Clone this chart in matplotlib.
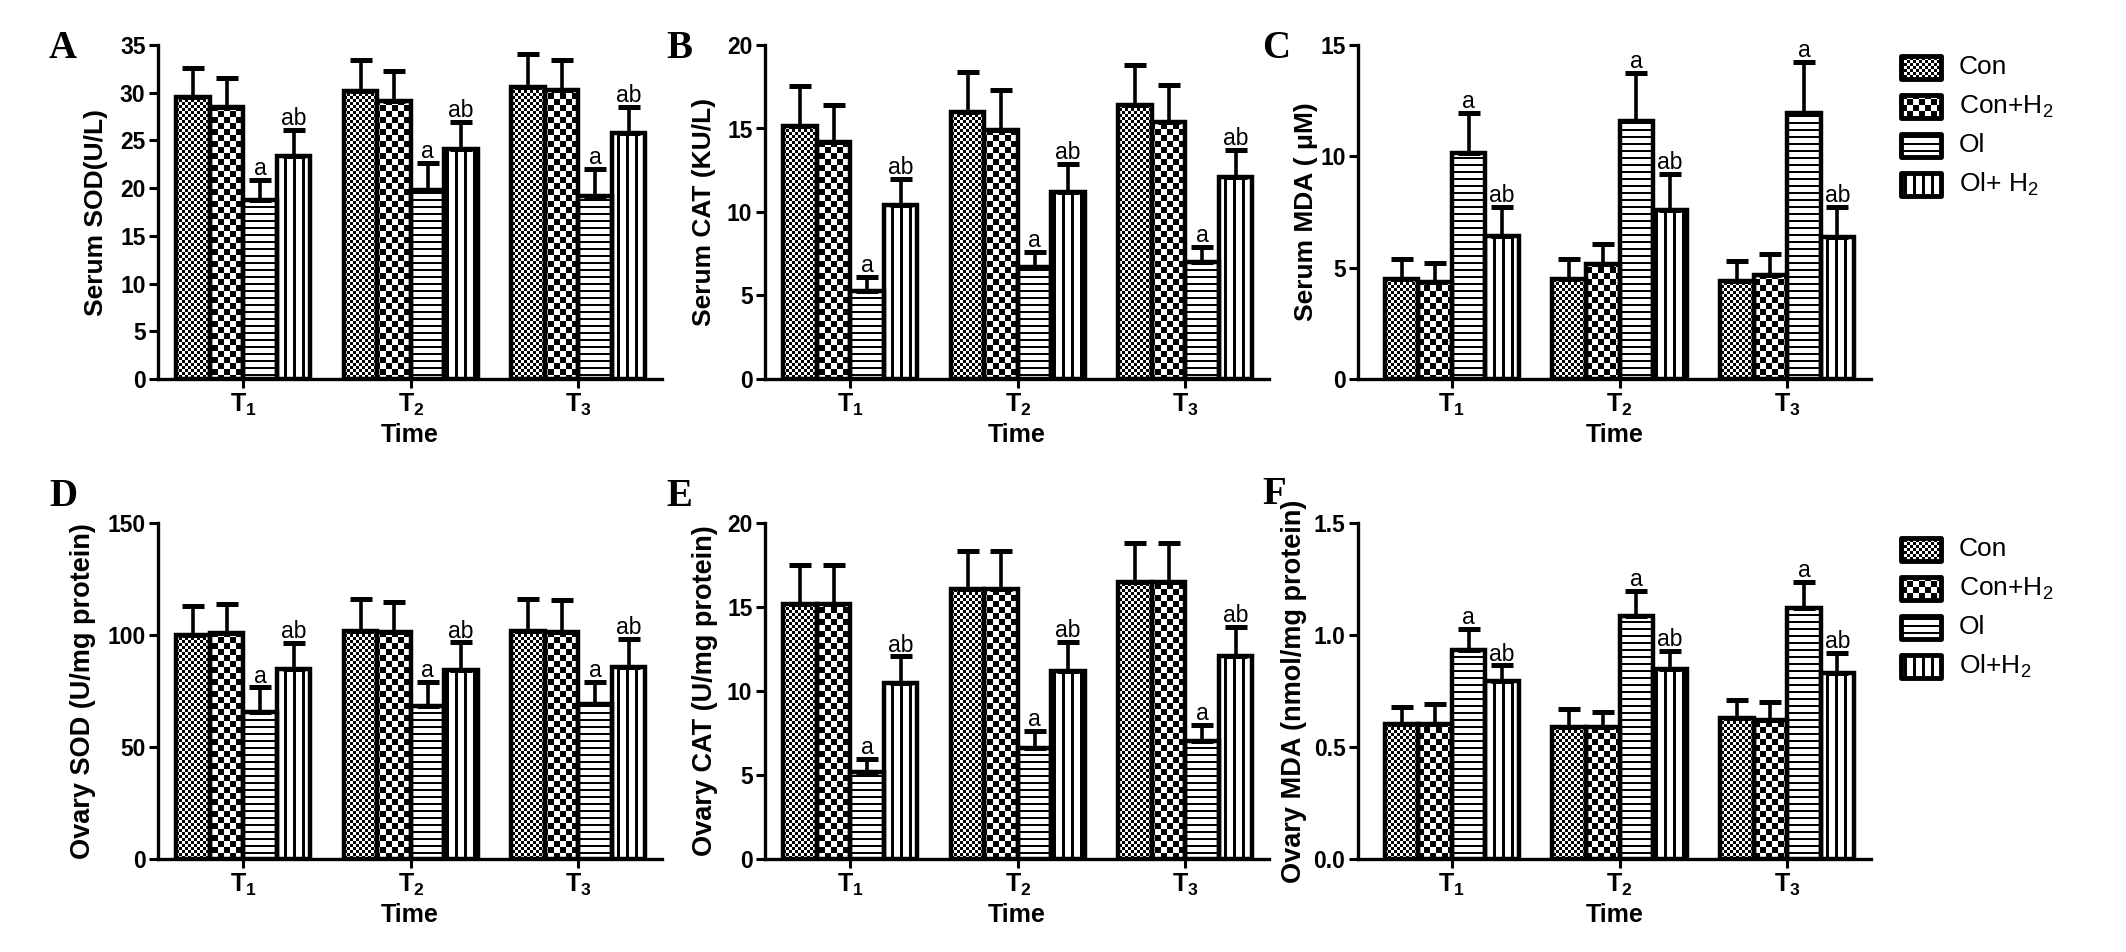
import numpy as np
import matplotlib
matplotlib.use("Agg")
from matplotlib import pyplot as plt
from matplotlib.path import Path
from matplotlib.patches import Rectangle

plt.rcParams['font.family'] = ['Liberation Sans', 'DejaVu Sans']
plt.rcParams['mathtext.fontset'] = 'custom'
plt.rcParams['mathtext.rm'] = 'Liberation Sans'
plt.rcParams['mathtext.it'] = 'Liberation Sans'
plt.rcParams['mathtext.bf'] = 'Liberation Sans:bold'
plt.rcParams['mathtext.default'] = 'rm'

# ---- data (group x time) ----
times = [r'$\mathbf{T_1}$', r'$\mathbf{T_2}$', r'$\mathbf{T_3}$']
groups = ['Con', 'Con+H2', 'Ol', 'Ol+H2']
sig_marks = ['', '', 'a', 'ab']
legend_top = ['Con', 'Con+H$_2$', 'Ol', 'Ol+ H$_2$']
legend_bottom = ['Con', 'Con+H$_2$', 'Ol', 'Ol+H$_2$']

serum_sod = [[29.6, 30.2, 30.6], [28.5, 29.1, 30.3], [18.8, 19.8, 19.2], [23.4, 24.1, 25.8]]
serum_sod_err = [[3.0, 3.2, 3.5], [3.0, 3.2, 3.1], [2.1, 2.8, 2.8], [2.7, 2.8, 2.7]]

serum_cat = [[15.15, 16.0, 16.4], [14.2, 14.9, 15.4], [5.25, 6.7, 7.0], [10.4, 11.2, 12.1]]
serum_cat_err = [[2.4, 2.4, 2.4], [2.2, 2.4, 2.2], [0.85, 0.9, 0.9], [1.6, 1.7, 1.6]]

serum_mda = [[4.49, 4.49, 4.38], [4.37, 5.17, 4.68], [10.17, 11.57, 11.93], [6.43, 7.57, 6.37]]
serum_mda_err = [[0.92, 0.92, 0.93], [0.86, 0.89, 0.93], [1.79, 2.19, 2.32], [1.29, 1.64, 1.35]]

ovary_sod = [[100.1, 101.6, 101.9], [100.7, 101.2, 101.5], [65.7, 68.1, 69.4], [84.8, 84.3, 85.5]]
ovary_sod_err = [[13.0, 14.5, 14.2], [13.2, 13.7, 14.2], [10.9, 11.0, 9.7], [11.6, 12.4, 12.7]]

ovary_cat = [[15.2, 16.06, 16.46], [15.2, 16.06, 16.46], [5.2, 6.62, 7.0], [10.46, 11.2, 12.06]]
ovary_cat_err = [[2.3, 2.3, 2.36], [2.3, 2.3, 2.36], [0.76, 0.98, 0.96], [1.6, 1.7, 1.74]]

ovary_mda = [[0.601, 0.591, 0.631], [0.601, 0.591, 0.622], [0.932, 1.084, 1.122], [0.794, 0.849, 0.830]]
ovary_mda_err = [[0.079, 0.079, 0.081], [0.090, 0.067, 0.081], [0.094, 0.112, 0.113], [0.070, 0.078, 0.090]]

FW, FH = 2126, 952
PATTERNS = ['fine', 'check', 'hline', 'vline']


def pattern(kind, h, w):
    '''0/1 texture, 1 = black'''
    yy, xx = np.mgrid[0:h, 0:w]
    if kind == 'fine':
        return ((xx // 3 + yy // 3) % 2).astype(float)
    if kind == 'check':
        return ((xx // 6 + yy // 6) % 2).astype(float)
    if kind == 'hline':
        return (yy % 7 < 2).astype(float)
    return (xx % 9 < 3).astype(float)


def add_axes_px(fig, left, top, w, h):
    return fig.add_axes([left / FW, 1 - (top + h) / FH, w / FW, h / FH])


def fill_pattern(ax, rects, kind, extent, shape):
    # texture image clipped to the bar outlines
    paths = [r.get_path().transformed(r.get_patch_transform()) for r in rects]
    clip = Path.make_compound_path(*paths)
    im = ax.imshow(pattern(kind, *shape), cmap='gray_r', vmin=0, vmax=1, extent=extent,
                   aspect='auto', interpolation='nearest', zorder=2)
    im.set_clip_path(clip, ax.transData)


def panel(fig, box, means, errs, ylabel, yticks, ylabel_fs, label_x, xlim, tickfmt):
    left, top, w, h = box
    ax = add_axes_px(fig, left, top, w, h)
    x = np.arange(len(times))
    width = 0.2
    ymax = yticks[-1]
    ax.set_xlim(*xlim)
    ax.set_ylim(0, ymax)
    for i, g in enumerate(groups):
        pos = x + (i - 1.5) * width
        bars = ax.bar(pos, means[i], width, facecolor='none', edgecolor='black', linewidth=3.2, zorder=3)
        fill_pattern(ax, bars, PATTERNS[i], (xlim[0], xlim[1], 0, ymax), (h, w))
        ax.errorbar(pos, means[i], yerr=[np.zeros(len(x)), errs[i]], fmt='none', ecolor='black',
                    elinewidth=2.6, capsize=8, capthick=3.6, zorder=2.5)
        if sig_marks[i]:
            for p, m, e in zip(pos, means[i], errs[i]):
                ax.annotate(sig_marks[i], (p, m + e), xytext=(0, 3.5), textcoords='offset points',
                            ha='center', va='baseline', fontsize=16.5)
    ax.set_xlim(*xlim)
    ax.set_ylim(0, ymax)
    for s in ['top', 'right']:
        ax.spines[s].set_visible(False)
    for s in ['left', 'bottom']:
        ax.spines[s].set_linewidth(2.4)
    ax.set_yticks(yticks)
    ax.set_yticklabels([tickfmt.format(t) for t in yticks], fontsize=16.5, fontweight='bold')
    ax.set_xticks(x)
    ax.set_xticklabels(times, fontsize=18)
    ax.tick_params(axis='y', length=6.5, width=2.2, pad=2.5)
    ax.tick_params(axis='x', length=6.5, width=2.2, pad=3)
    ax.set_xlabel('Time', fontsize=18, fontweight='bold', labelpad=3)
    ax.set_ylabel(ylabel, fontsize=ylabel_fs, fontweight='bold')
    ax.yaxis.set_label_coords(label_x / w, 0.5)
    return ax


def legend_box(fig, left, top, labels):
    W, H = 231, 165
    ax = add_axes_px(fig, left, top, W, H)
    ax.set_xlim(0, W)
    ax.set_ylim(H, 0)
    ax.axis('off')
    rows = [11, 50, 89, 128]
    for i, lab in enumerate(labels):
        r = Rectangle((6, rows[i]), 40, 23, facecolor='none', edgecolor='black', linewidth=3.5,
                      joinstyle='round', zorder=3)
        ax.add_patch(r)
        fill_pattern(ax, [r], PATTERNS[i], (0, W, H, 0), (H, W))
        ax.text(64, rows[i] + 11.5, lab, fontsize=19, va='center', ha='left')
    ax.set_xlim(0, W)
    ax.set_ylim(H, 0)


fig = plt.figure(figsize=(FW / 100, FH / 100), dpi=100)

top_row = [
    ((158, 45, 504, 334), serum_sod, serum_sod_err, 'Serum SOD(U/L)', [0, 5, 10, 15, 20, 25, 30, 35], -50, (-0.51, 2.5), '{:g}'),
    ((765, 45, 504, 334), serum_cat, serum_cat_err, 'Serum CAT (KU/L)', [0, 5, 10, 15, 20], -49, (-0.51, 2.5), '{:g}'),
    ((1358, 45, 513, 334), serum_mda, serum_mda_err, 'Serum MDA ( \u03bcM)', [0, 5, 10, 15], -40, (-0.56, 2.5), '{:g}'),
]
bottom_row = [
    ((158, 523, 504, 336), ovary_sod, ovary_sod_err, 'Ovary SOD (U/mg protein)', [0, 50, 100, 150], -62, (-0.51, 2.5), '{:g}'),
    ((765, 523, 504, 336), ovary_cat, ovary_cat_err, 'Ovary CAT (U/mg protein)', [0, 5, 10, 15, 20], -47, (-0.51, 2.5), '{:g}'),
    ((1358, 523, 513, 336), ovary_mda, ovary_mda_err, 'Ovary MDA (nmol/mg protein)', [0.0, 0.5, 1.0, 1.5], -51, (-0.56, 2.5), '{:.1f}'),
]
for box, m, e, lab, yt, lx, xl, fmt in top_row:
    panel(fig, box, m, e, lab, yt, 19, lx, xl, fmt)
for box, m, e, lab, yt, lx, xl, fmt in bottom_row:
    panel(fig, box, m, e, lab, yt, 19.5, lx, xl, fmt)

legend_box(fig, 1895, 45, legend_top)
legend_box(fig, 1895, 527, legend_bottom)

# panel letters
for letter, (lx, ly) in zip('ABCDEF', [(49, 30), (666, 30), (1262, 30), (49, 478), (666, 478), (1262, 476)]):
    fig.text(lx / FW, 1 - ly / FH, letter, fontsize=28, fontweight='bold', family='Liberation Serif',
             ha='left', va='top')

fig.savefig('out.png', dpi=100)
